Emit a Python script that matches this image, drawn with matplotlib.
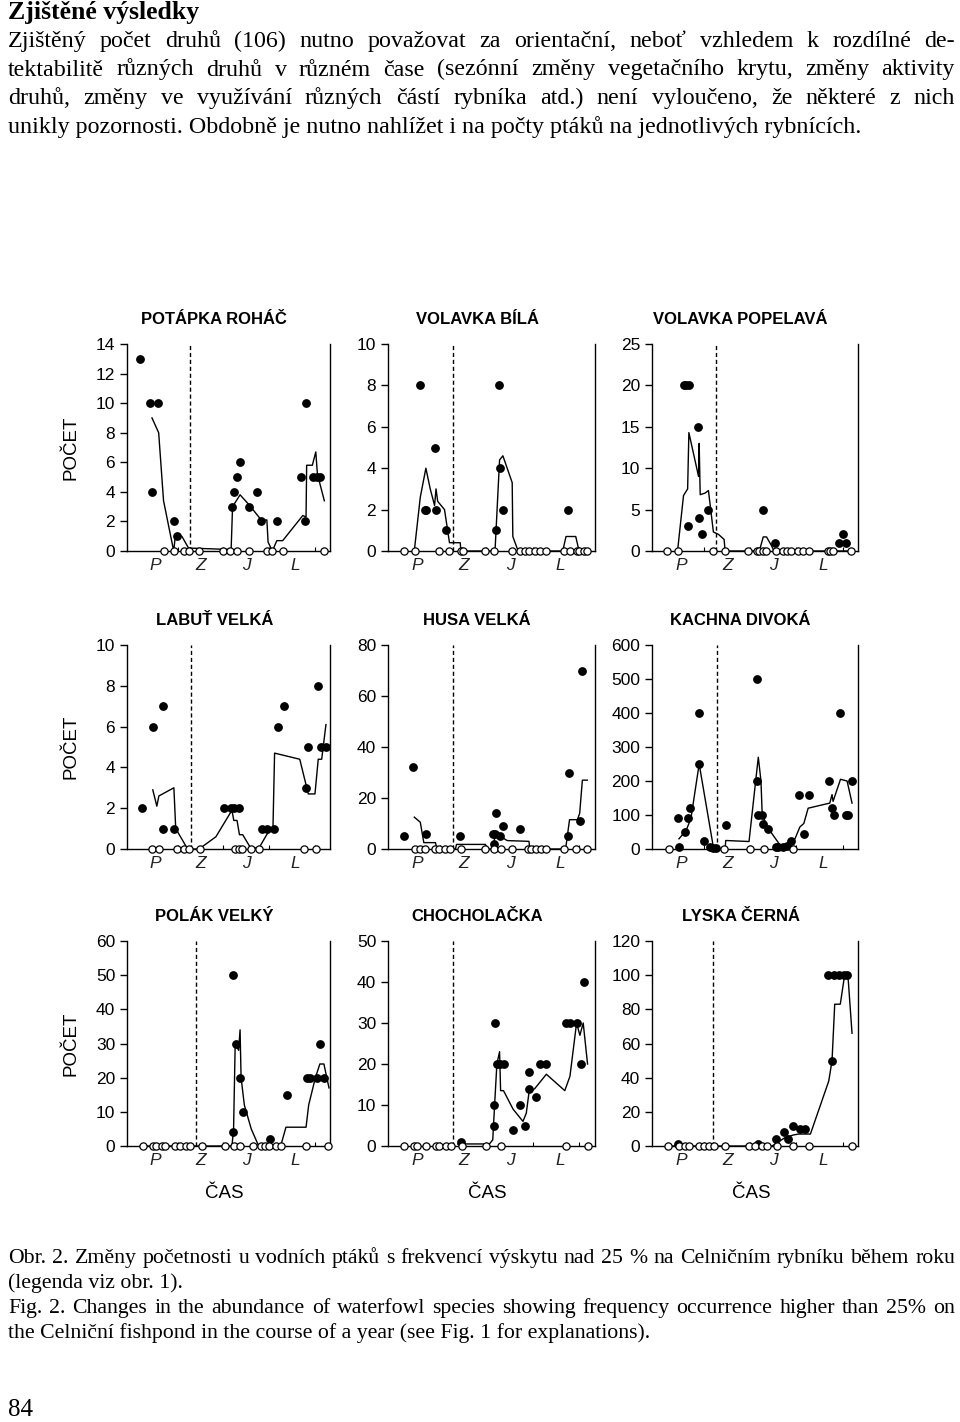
import matplotlib.pyplot as plt

# --- season labels on the time axis ---
season_labels = ['P', 'Z', 'J', 'L']
season_pos = [14, 36.5, 59, 83]
season_edges = [25, 47.5, 70, 92.5]

# --- POTÁPKA ROHÁČ ---
pr_full_x = [6.6, 11.1, 15.2, 12.5, 23.0, 24.6, 51.6, 52.5, 54.1, 55.7, 60.3, 63.9, 66.1, 73.9, 85.6, 87.7, 88.2, 91.8, 93.4, 95.1]
pr_full_y = [13, 10, 10, 4, 2, 1, 3, 4, 5, 6, 3, 4, 2, 2, 5, 2, 10, 5, 5, 5]
pr_open_x = [18.0, 23.0, 27.9, 30.3, 35.7, 47.5, 50.8, 54.4, 60.3, 68.9, 71.3, 76.7, 97.2]
pr_line_x = [12.3, 15.6, 18.0, 23.0, 23.8, 27.0, 30.3, 51.3, 52.0, 55.7, 60.3, 66.1, 68.9, 69.5, 71.6, 73.8, 76.7, 86.6, 88.2, 88.5, 91.3, 93.0, 93.8, 97.2]
pr_line_y = [9, 8, 3.4, 0, 1, 1, 0.2, 0.1, 3, 3.8, 3.1, 2.1, 2.1, 0.6, 0, 0.7, 0.7, 2.4, 2.3, 5.8, 5.8, 6.7, 5.2, 3.4]

# --- VOLAVKA BÍLÁ ---
vb_full_x = [15.6, 17.7, 18.5, 22.8, 23.2, 27.8, 52.1, 53.7, 54.0, 55.6, 86.8]
vb_full_y = [8, 2, 2, 5, 2, 1, 1, 8, 4, 2, 2]
vb_open_x = [7.6, 12.9, 24.4, 29.6, 35.2, 36.0, 46.9, 51.0, 60.0, 63.8, 66.2, 68.2, 71.1, 73.5, 76.2, 85.0, 87.9, 91.2, 92.4, 94.9, 96.3]
vb_line_x = [12.7, 15.6, 18.3, 20.4, 22.5, 23.2, 24.0, 27.3, 29.7, 34.9, 35.2, 51.3, 51.8, 53.9, 55.5, 60.0, 60.3, 62.5, 63.8, 84.4, 86.0, 90.7, 92.3, 96.8]
vb_line_y = [0, 2.6, 4, 3, 2.2, 3, 2.4, 2, 0.4, 0.4, 0, 0, 0.2, 4.4, 4.6, 3.3, 0.7, 0.1, 0, 0, 0.7, 0.7, 0, 0]

# --- VOLAVKA POPELAVÁ ---
vp_full_x = [15.5, 16.6, 17.9, 17.3, 22.4, 22.6, 24.4, 27.3, 53.7, 59.5, 90.8, 92.7, 94.4]
vp_full_y = [20, 20, 20, 3, 15, 4, 2, 5, 5, 1, 1, 2, 1]
vp_open_x = [7.3, 12.4, 29.8, 35.2, 46.8, 50.8, 52.1, 53.7, 55.2, 60.0, 63.7, 65.6, 67.7, 71.0, 73.4, 76.1, 85.2, 86.3, 87.9, 96.8]
vp_line_x = [12.4, 15.3, 17.3, 17.9, 22.6, 22.9, 23.4, 25.8, 27.4, 29.8, 32.3, 35.0, 35.5, 52.1, 54.0, 55.6, 58.1, 59.2, 97.6]
vp_line_y = [0, 6.7, 7.5, 14.3, 9, 13, 6.8, 7, 7.3, 2.3, 2, 1.4, 0, 0, 1.7, 1.7, 0.6, 0, 0]

# --- LABUŤ VELKÁ ---
lv_full_x = [7.4, 12.6, 17.9, 17.9, 23.1, 47.6, 51.2, 52.6, 55.4, 66.6, 69.1, 72.4, 74.4, 77.2, 88.4, 89.3, 93.9, 95.5, 98.0]
lv_full_y = [2, 6, 7, 1, 1, 2, 2, 2, 2, 1, 1, 1, 6, 7, 3, 5, 8, 5, 5]
lv_open_x = [12.4, 16.0, 24.8, 28.1, 30.6, 36.0, 53.2, 55.0, 56.7, 61.2, 65.0, 87.1, 93.1]
lv_line_x = [12.7, 14.7, 15.7, 23.1, 24.0, 28.1, 29.8, 35.5, 43.8, 51.7, 52.6, 54.2, 55.4, 57.0, 61.2, 65.3, 69.4, 71.9, 72.7, 85.1, 89.3, 92.6, 94.2, 95.9, 98.0]
lv_line_y = [2.9, 2.1, 2.6, 3.0, 1.0, 0.3, 0, 0, 0.6, 1.9, 1.4, 1.4, 0.7, 0.7, 0, 0.1, 0.8, 1.0, 4.7, 4.4, 2.7, 2.7, 4.4, 4.4, 6.1]

# --- HUSA VELKÁ ---
hv_full_x = [7.6, 12.3, 18.4, 35.0, 51.1, 50.6, 52.4, 51.9, 54.0, 55.5, 63.9, 86.8, 87.4, 92.6, 93.9]
hv_full_y = [5, 32, 6, 5, 2, 6, 14, 6, 5, 9, 8, 5, 30, 11, 70]
hv_open_x = [12.9, 15.6, 17.7, 22.9, 24.5, 27.4, 29.8, 35.5, 47.1, 51.1, 54.4, 60.0, 67.6, 68.9, 71.6, 73.7, 76.1, 85.2, 91.0, 96.3]
hv_line_x = [12.7, 15.6, 17.3, 22.9, 23.7, 32.6, 33.1, 47.1, 47.6, 50.6, 51.9, 55.2, 57.6, 68.1, 68.5, 85.8, 87.7, 91.5, 92.6, 93.9, 96.3]
hv_line_y = [12.5, 10.5, 2.5, 2.5, 0, 0, 1.8, 1.8, 0, 0, 6, 4.5, 3.3, 3, 0, 0, 11.5, 11.5, 14, 27, 27]

# --- KACHNA DIVOKÁ ---
kd_full_x = [12.6, 13.2, 16.1, 17.7, 18.5, 22.9, 22.9, 25.0, 28.2, 29.8, 31.1, 35.8, 50.8, 51.0, 51.6, 53.2, 54.0, 56.5, 60.0, 61.3, 63.4, 65.6, 67.7, 71.5, 73.9, 76.3, 86.0, 87.4, 88.4, 91.5, 94.4, 95.2, 97.1]
kd_full_y = [90, 5, 50, 90, 120, 400, 250, 25, 5, 3, 2, 70, 500, 200, 100, 100, 75, 60, 5, 5, 5, 10, 25, 160, 45, 160, 200, 120, 100, 400, 100, 100, 200]
kd_open_x = [8.1, 35.0, 47.6, 54.4, 68.5]
kd_line_x = [13.1, 16.6, 18.9, 22.9, 29.8, 31.1, 35.5, 35.8, 47.1, 51.6, 52.9, 53.5, 56.5, 62.1, 65.3, 69.4, 71.8, 73.7, 75.8, 86.3, 87.4, 87.9, 91.5, 94.7, 97.1]
kd_line_y = [30, 55, 90, 250, 5, 0, 0, 25, 22, 270, 200, 100, 60, 12, 12, 30, 65, 75, 120, 135, 160, 140, 205, 200, 135]

# --- POLÁK VELKÝ ---
pv_full_x = [52.3, 52.3, 53.7, 55.7, 57.3, 70.3, 78.7, 88.7, 90.3, 93.7, 95.3, 97.0]
pv_full_y = [50, 4, 30, 20, 10, 2, 15, 20, 20, 20, 30, 20]
pv_open_x = [7.8, 12.8, 14.5, 17.0, 18.7, 23.7, 26.2, 29.0, 31.2, 37.0, 48.3, 52.5, 55.8, 62.0, 65.8, 67.8, 70.0, 73.3, 75.7, 88.2, 99.2]
pv_line_x = [7.8, 51.7, 52.5, 53.3, 55.0, 55.7, 56.2, 57.8, 61.2, 64.5, 65.3, 75.7, 78.3, 88.2, 89.5, 92.8, 95.0, 97.0, 99.5]
pv_line_y = [0, 0, 5, 30, 28, 34, 20, 12, 5, 0.5, 0, 0, 5.5, 5.5, 12, 20, 24, 24, 17]

# --- CHOCHOLAČKA ---
ch_full_x = [35.3, 51.1, 51.1, 51.5, 52.6, 54.2, 55.8, 60.4, 63.9, 66.3, 68.1, 68.1, 71.7, 73.3, 76.5, 86.2, 87.9, 91.1, 93.0, 94.7]
ch_full_y = [1, 10, 5, 30, 20, 20, 20, 4, 10, 5, 14, 18, 12, 20, 20, 30, 30, 30, 20, 40]
ch_open_x = [7.8, 12.6, 14.2, 18.3, 23.1, 24.8, 28.0, 30.4, 35.6, 47.4, 54.4, 85.8, 96.8]
ch_line_x = [33.7, 49.0, 50.6, 51.5, 52.6, 53.9, 54.4, 55.8, 60.4, 65.2, 66.8, 68.1, 70.9, 76.5, 85.4, 87.9, 91.1, 92.7, 94.3, 96.4]
ch_line_y = [0.5, 0.5, 1.5, 10, 20, 23, 13.5, 13.5, 9, 6, 8, 13, 14, 17.5, 13.5, 17, 30, 27, 30, 20]

# --- LYSKA ČERNÁ ---
lc_full_x = [12.6, 51.5, 60.4, 63.9, 66.0, 68.4, 72.0, 74.1, 85.4, 87.4, 88.2, 90.9, 93.0, 94.7]
lc_full_y = [1, 1, 4, 8, 4, 12, 10, 10, 100, 50, 100, 100, 100, 100]
lc_open_x = [7.6, 12.9, 15.9, 17.8, 22.7, 25.1, 27.5, 29.9, 35.3, 47.2, 50.2, 53.4, 55.8, 60.7, 68.4, 76.4, 97.1]
lc_line_x = [7.6, 58.3, 64.7, 68.8, 71.2, 76.9, 85.8, 87.4, 88.7, 91.4, 93.5, 95.1, 97.1]
lc_line_y = [0, 0, 5, 6.5, 7, 7, 38, 50, 83, 83, 100, 100, 66]

panels = [
    ('POTÁPKA ROHÁČ', pr_full_x, pr_full_y, pr_open_x, pr_line_x, pr_line_y, 14, 2, 30.8),
    ('VOLAVKA BÍLÁ', vb_full_x, vb_full_y, vb_open_x, vb_line_x, vb_line_y, 10, 2, 31.2),
    ('VOLAVKA POPELAVÁ', vp_full_x, vp_full_y, vp_open_x, vp_line_x, vp_line_y, 25, 5, 31.0),
    ('LABUŤ VELKÁ', lv_full_x, lv_full_y, lv_open_x, lv_line_x, lv_line_y, 10, 2, 31.4),
    ('HUSA VELKÁ', hv_full_x, hv_full_y, hv_open_x, hv_line_x, hv_line_y, 80, 20, 31.3),
    ('KACHNA DIVOKÁ', kd_full_x, kd_full_y, kd_open_x, kd_line_x, kd_line_y, 600, 100, 31.5),
    ('POLÁK VELKÝ', pv_full_x, pv_full_y, pv_open_x, pv_line_x, pv_line_y, 60, 10, 34.0),
    ('CHOCHOLAČKA', ch_full_x, ch_full_y, ch_open_x, ch_line_x, ch_line_y, 50, 10, 31.2),
    ('LYSKA ČERNÁ', lc_full_x, lc_full_y, lc_open_x, lc_line_x, lc_line_y, 120, 20, 29.4),
]

W, H = 960, 1422
fig = plt.figure(figsize=(W / 100, H / 100), dpi=100)
plt.rcParams['font.family'] = ['Liberation Sans', 'DejaVu Sans']

cols = [(127, 330), (388, 595), (652, 858)]
rows = [(344, 551), (645, 849), (941, 1146)]

for i, (title, fx, fy, ox, lx, ly, ymax, ystep, dash) in enumerate(panels):
    r, c = divmod(i, 3)
    x0, x1 = cols[c]
    y0, y1 = rows[r]
    ax = fig.add_axes([x0 / W, 1 - y1 / H, (x1 - x0) / W, (y1 - y0) / H])
    ax.plot(lx, ly, color='black', lw=1.0, zorder=2)
    ax.plot(fx, fy, 'o', color='black', ms=5.3, zorder=3, clip_on=False)
    ax.plot(ox, [0] * len(ox), 'o', mfc='white', mec='black', mew=0.9, ms=5.2, zorder=4, clip_on=False)
    ax.axvline(dash, color='black', lw=1.0, ls=(0, (3, 2)), zorder=1)
    ax.set_xlim(0, 100)
    ax.set_ylim(0, ymax)
    ax.set_yticks(range(0, ymax + 1, ystep))
    ax.tick_params(axis='y', direction='out', length=5, labelsize=12.5, width=1)
    ax.set_xticks(season_edges)
    ax.set_xticklabels([])
    ax.tick_params(axis='x', which='major', direction='in', length=3)
    ax.set_xticks(season_pos, minor=True)
    ax.set_xticklabels(season_labels, minor=True, fontstyle='italic', fontsize=12.5, color='#222222')
    ax.tick_params(axis='x', which='minor', length=0, pad=5)
    ax.spines['top'].set_visible(False)
    for s in ['left', 'right', 'bottom']:
        ax.spines[s].set_linewidth(1.0)
    ax.text(0.43, 1.12, title, transform=ax.transAxes, ha='center', va='center',
            fontsize=12, fontweight='bold')
    if c == 0:
        ax.set_ylabel('POČET', fontsize=13.5, labelpad=12)
    if r == 2:
        ax.text(0.48, -0.23, 'ČAS', transform=ax.transAxes, ha='center', va='center', fontsize=13.5)

# --- page text ---
serif = ['Liberation Serif', 'DejaVu Serif']
renderer = fig.canvas.get_renderer()


def text_line(y_base, line, size, justify, left=8, right=955):
    # one line of the page text; justified lines spread their words to the right margin
    y = 1 - y_base / H
    if not justify:
        fig.text(left / W, y, line, family=serif, fontsize=size, va='baseline')
        return
    words = line.split(' ')
    items = [fig.text(0, y, w, family=serif, fontsize=size, va='baseline') for w in words]
    widths = [t.get_window_extent(renderer).width for t in items]
    gap = (right - left - sum(widths)) / (len(words) - 1)
    x = left
    for t, w in zip(items, widths):
        t.set_x(x / W)
        x += w + gap


body = [
    'Zjištěný počet druhů (106) nutno považovat za orientační, neboť vzhledem k rozdílné de-',
    'tektabilitě různých druhů v různém čase (sezónní změny vegetačního krytu, změny aktivity',
    'druhů, změny ve využívání různých částí rybníka atd.) není vyloučeno, že některé z nich',
    'unikly pozornosti. Obdobně je nutno nahlížet i na počty ptáků na jednotlivých rybnících.',
]
fig.text(8 / W, 1 - 19 / H, 'Zjištěné výsledky', family=serif, fontweight='bold', fontsize=18.5, va='baseline')
for k, line in enumerate(body):
    text_line(47 + 28.5 * k, line, 17.3, k < 3)

caption = [
    'Obr. 2. Změny početnosti u vodních ptáků s frekvencí výskytu nad 25 % na Celničním rybníku během roku',
    '(legenda viz obr. 1).',
    'Fig. 2. Changes in the abundance of waterfowl species showing frequency occurrence higher than 25% on',
    'the Celniční fishpond in the course of a year (see Fig. 1 for explanations).',
]
for k, line in enumerate(caption):
    text_line(1263 + 25 * k, line, 15.7, k in (0, 2))
fig.text(8 / W, 1 - 1416 / H, '84', family=serif, fontsize=18, va='baseline')

fig.savefig('out.png', dpi=100)
